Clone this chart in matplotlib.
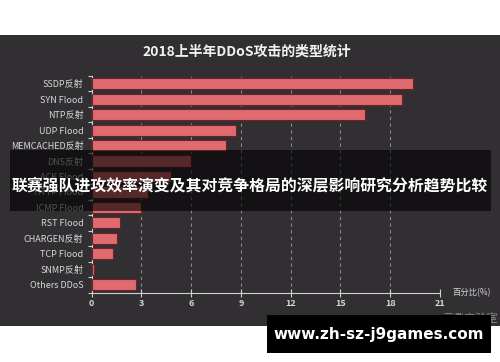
import matplotlib
matplotlib.use("Agg")
import matplotlib.pyplot as plt
from matplotlib.patches import Rectangle

plt.rcParams['font.family'] = ['Noto Sans CJK SC', 'DejaVu Sans']

# 数据
categories = ['SSDP反射', 'SYN Flood', 'NTP反射', 'UDP Flood', 'MEMCACHED反射',
              'DNS反射', 'ACK Flood', 'HTTP Flood', 'ICMP Flood', 'RST Flood',
              'CHARGEN反射', 'TCP Flood', 'SNMP反射', 'Others DDoS']
values = [19.4, 18.7, 16.5, 8.7, 8.1, 6.0, 4.8, 3.4, 3.0, 1.7, 1.5, 1.3, 0.15, 2.7]
xticks = [0, 3, 6, 9, 12, 15, 18, 21]

title = '2018上半年DDoS攻击的类型统计'
overlay_text = '联赛强队进攻效率演变及其对竞争格局的深层影响研究分析趋势比较'
url_text = 'www.zh-sz-j9games.com'

W, H = 500, 362
fig = plt.figure(figsize=(5, 3.62), dpi=100, facecolor='white')

def px_rect(x0, y0, x1, y1, **kw):
    # 像素坐标 (左上原点) -> figure坐标
    r = Rectangle((x0 / W, 1 - y1 / H), (x1 - x0) / W, (y1 - y0) / H,
                  transform=fig.transFigure, **kw)
    fig.patches.append(r)
    return r

# 深色背景面板
px_rect(0, 35, 500, 326, facecolor='#322f33', edgecolor='none', zorder=-1)

ax = fig.add_axes([91.7 / W, 1 - 292.5 / H, (440 - 91.7) / W, (292.5 - 76) / H])
ax.set_facecolor('none')
ax.set_zorder(1)

ypos = list(range(len(categories)))
ax.barh(ypos, values, height=0.72, color='#e06a6e', edgecolor='#6a2326',
        linewidth=0.8, zorder=3)
ax.set_ylim(len(categories) - 0.5, -0.5)
ax.set_yticks(ypos)
ax.set_yticklabels(categories)
ax.set_yticks([i + 0.5 for i in range(-1, len(categories))], minor=True)
ax.tick_params(axis='y', which='major', length=0, pad=6, labelsize=6.5,
               labelcolor='#d6d6d6')
ax.tick_params(axis='y', which='minor', length=3, color='#cfcfcf', width=0.8)

ax.set_xlim(0, 21)
ax.set_xticks(xticks)
ax.tick_params(axis='x', direction='inout', length=6, color='#d0d0d0', width=0.8,
               labelsize=6.5, labelcolor='#d6d6d6', pad=2)
for lab in ax.get_xticklabels():
    lab.set_fontweight('bold')

for x in xticks[1:]:
    ax.axvline(x, color='#8a878a', linestyle=(0, (3, 3)), linewidth=0.8, zorder=1)

for s in ['top', 'right']:
    ax.spines[s].set_visible(False)
ax.spines['left'].set_color('#d0d0d0')
ax.spines['bottom'].set_color('#d0d0d0')
ax.spines['left'].set_linewidth(0.8)
ax.spines['bottom'].set_linewidth(0.8)

fig.text(247 / W, 1 - 52 / H, title, color='#f2f2f2', fontsize=10,
         fontweight='bold', ha='center', va='center')
fig.text(472 / W, 1 - 293 / H, '百分比(%)', color='#d6d6d6', fontsize=6,
         ha='center', va='center')
fig.text(470 / W, 1 - 318 / H, '云鼎实验室', color='#8a8a8a', fontsize=8,
         ha='center', va='center')

# 半透明黑色横幅
px_rect(10, 150, 491, 211, facecolor='black', edgecolor='none', alpha=0.62, zorder=5)
fig.text(250 / W, 1 - 185 / H, overlay_text, color='white', fontsize=11.4,
         fontweight='bold', ha='center', va='center', zorder=6)

# 底部网址框
px_rect(267, 315, 491, 353, facecolor='black', edgecolor='none', zorder=5)
fig.text(379 / W, 1 - 334 / H, url_text, color='white', fontsize=11,
         fontweight='bold', family=['DejaVu Sans'], ha='center', va='center', zorder=6)

fig.savefig('out.png', dpi=100, facecolor='white')
